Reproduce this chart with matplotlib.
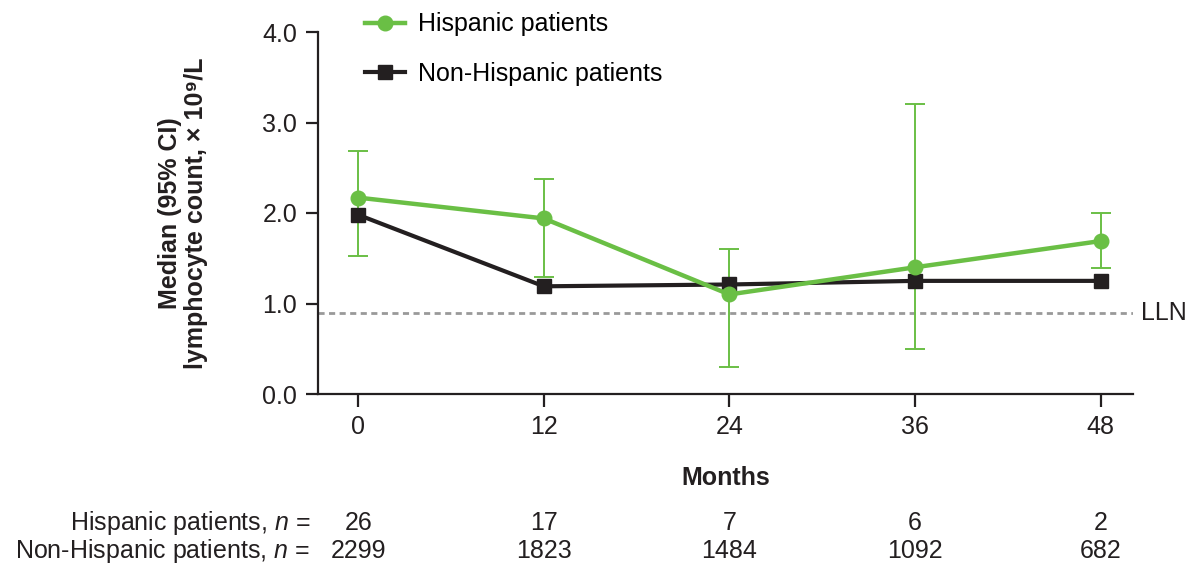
import matplotlib
matplotlib.use("Agg")
import matplotlib.pyplot as plt

plt.rcParams['font.family'] = ['Liberation Sans', 'DejaVu Sans']
plt.rcParams['mathtext.fontset'] = 'custom'
plt.rcParams['mathtext.rm'] = 'Liberation Sans'
plt.rcParams['mathtext.it'] = 'Liberation Sans:italic'
plt.rcParams['mathtext.bf'] = 'Liberation Sans:bold'

months = [0, 12, 24, 36, 48]
hisp_median = [2.17, 1.94, 1.10, 1.40, 1.69]
hisp_lower = [1.52, 1.29, 0.30, 0.50, 1.39]
hisp_upper = [2.68, 2.38, 1.60, 3.20, 2.00]
nonhisp_median = [1.98, 1.19, 1.21, 1.25, 1.25]
lln = 0.9
hisp_n = [26, 17, 7, 6, 2]
nonhisp_n = [2299, 1823, 1484, 1092, 682]
yticks = [0.0, 1.0, 2.0, 3.0, 4.0]

green = '#6abf45'
black = '#231f20'
FS = 18

fig = plt.figure(figsize=(11.92, 5.71), dpi=100)
ax = fig.add_axes([318/1192, 1 - 394/571, (1133 - 318)/1192, (394 - 32)/571])

# lower limit of normal
ax.axhline(lln, color='#999999', lw=2, ls=(0, (2.2, 1.6)), zorder=1)

yerr = [[m - l for m, l in zip(hisp_median, hisp_lower)],
        [u - m for m, u in zip(hisp_median, hisp_upper)]]
ax.errorbar(months, hisp_median, yerr=yerr, fmt='none', ecolor=green,
            elinewidth=1.4, capsize=7, capthick=1.4, zorder=2)
ax.plot(months, nonhisp_median, color=black, lw=3.0, marker='s', ms=10,
        label='Non-Hispanic patients', zorder=3)
ax.plot(months, hisp_median, color=green, lw=3.2, marker='o', ms=10.5,
        label='Hispanic patients', zorder=4)

ax.set_xlim(-2.6, 50.1)
ax.set_ylim(0, 4.0)
ax.set_xticks(months)
ax.set_yticks(yticks)
ax.set_yticklabels([f'{v:.1f}' for v in yticks])
for s in ['top', 'right']:
    ax.spines[s].set_visible(False)
for s in ['left', 'bottom']:
    ax.spines[s].set_linewidth(1.6)
    ax.spines[s].set_color(black)
ax.tick_params(axis='both', length=9, width=1.6, labelsize=FS, color=black,
               labelcolor=black, pad=6)

ax.text(50.6, lln, 'LLN', fontsize=FS, va='center', ha='left', color=black)

ax.set_ylabel('Median (95% CI)\nlymphocyte count, × 10⁹/L', fontsize=FS,
              fontweight='bold', color=black, linespacing=1.1)
ax.yaxis.set_label_coords((208 - 318)/815, 0.5)
ax.set_xlabel('Months', fontsize=FS, fontweight='bold', color=black)
ax.xaxis.set_label_coords(0.5, -(478 - 394)/362)
ax.xaxis.label.set_va('center')

handles, labels = ax.get_legend_handles_labels()
leg = fig.legend(handles[::-1], labels[::-1], loc='upper left',
                 bbox_to_anchor=(342/1192, 1 + 10/571), frameon=False,
                 fontsize=FS, handlelength=1.6, labelspacing=1.0,
                 handletextpad=0.52)

# numbers at risk below the x axis
row_y = [1 - 523/571, 1 - 551/571]
row_labels = ['Hispanic patients, $n$ =', 'Non-Hispanic patients, $n$ =']
for y, lab, vals in zip(row_y, row_labels, [hisp_n, nonhisp_n]):
    fig.text(310/1192, y, lab, fontsize=FS, ha='right', va='center', color=black)
    for m, v in zip(months, vals):
        xd = ax.transData.transform((m, 0))[0]
        xf = fig.transFigure.inverted().transform((xd, 0))[0]
        fig.text(xf, y, str(v), fontsize=FS, ha='center', va='center', color=black)

fig.savefig('out.png', dpi=100, facecolor='white')
